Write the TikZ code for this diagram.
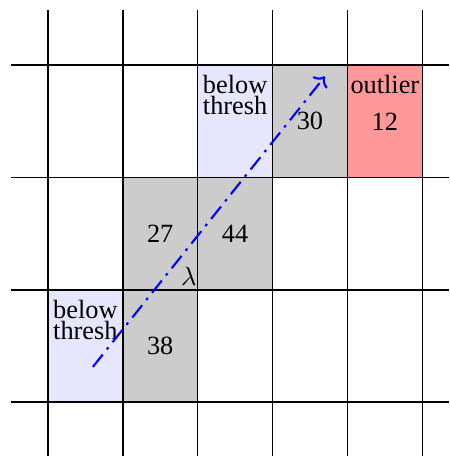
\documentclass[tikz,border=0pt]{standalone}
\usepackage{fontspec}
\setmainfont{Liberation Serif}
\usepackage{tikz}
\usepackage{xcolor}
\usetikzlibrary{arrows.meta}
\definecolor{threshBlue}{RGB}{230,230,255}
\definecolor{cellGray}{RGB}{204,204,204}
\definecolor{outlierRed}{RGB}{255,153,153}

\begin{document}
\begin{tikzpicture}[line width=0.6pt,
  cell/.style={draw=black, minimum width=1cm, minimum height=1.5cm, inner sep=0pt},
  note/.style={anchor=north, align=center, inner sep=4pt, font=\fontsize{10}{8}\selectfont}]
\useasboundingbox (-0.64,-0.72) rectangle (5.36,5.37);
% grid
\foreach \x in {0,...,5}
  \draw (\x,-0.72) -- (\x,5.24);
\foreach \y in {0,1.5,3,4.5}
  \draw (-0.49,\y) -- (5.36,\y);
% cells
\node[cell, fill=threshBlue] (lowA) at (0.5,0.75) {};
\node[cell, fill=cellGray] (c38) at (1.5,0.75) {38};
\node[cell, fill=cellGray] (c27) at (1.5,2.25) {27};
\node[cell, fill=cellGray] (c44) at (2.5,2.25) {44};
\node[cell, fill=threshBlue] (lowB) at (2.5,3.75) {};
\node[cell, fill=cellGray] (c30) at (3.5,3.75) {30};
\node[cell, fill=outlierRed] (c12) at (4.5,3.75) {12};
\node[note] (lowAtxt) at (lowA.north) {below\\thresh};
\node[note] (lowBtxt) at (lowB.north) {below\\thresh};
\node[note] (outTxt) at (c12.north) {outlier};
% direction
\coordinate (lineStart) at (0.6,0.47);
\coordinate (lineEnd) at (3.7,4.35);
\draw[blue, thick, dash pattern=on 6pt off 2.5pt on 1pt off 2.5pt, ->] (lineStart) -- (lineEnd);
\node[anchor=south east, inner xsep=0.5pt, inner ysep=1.8pt] (lam) at (c27.south east) {$\lambda$};
\end{tikzpicture}
\end{document}
